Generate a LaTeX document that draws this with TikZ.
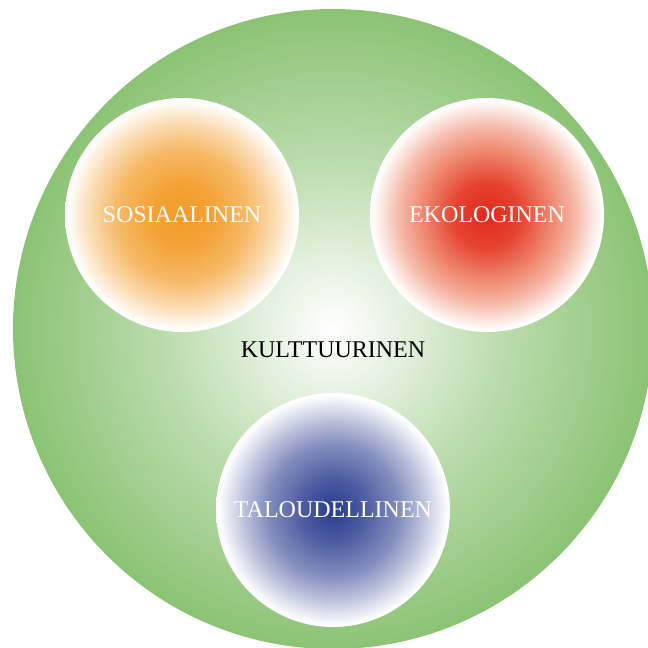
\documentclass[tikz,border=0pt]{standalone}
\usepackage{fontspec}
\setmainfont{Liberation Serif}
\definecolor{vihrea}{HTML}{8BC374}
\definecolor{oranssi}{HTML}{F39B26}
\definecolor{punainen}{HTML}{E2281C}
\definecolor{lohi}{HTML}{EC7557}
\definecolor{sininen}{HTML}{283A8E}
\pgfdeclareradialshading{vihreaS}{\pgfpoint{0bp}{0bp}}{color(0bp)=(white); color(3bp)=(vihrea!12!white); color(13bp)=(vihrea!58!white); color(25bp)=(vihrea); color(50bp)=(vihrea)}
\pgfdeclareradialshading{oranssiS}{\pgfpoint{0bp}{0bp}}{color(0bp)=(oranssi); color(7bp)=(oranssi!92!white); color(14bp)=(oranssi!70!white); color(19bp)=(oranssi!40!white); color(23bp)=(oranssi!12!white); color(24.6bp)=(white); color(50bp)=(white)}
\pgfdeclareradialshading{punainenS}{\pgfpoint{0bp}{0bp}}{color(0bp)=(punainen); color(7bp)=(punainen!65!lohi); color(14bp)=(lohi!85!white); color(19bp)=(lohi!50!white); color(23bp)=(lohi!14!white); color(24.6bp)=(white); color(50bp)=(white)}
\pgfdeclareradialshading{sininenS}{\pgfpoint{0bp}{0bp}}{color(0bp)=(sininen); color(7bp)=(sininen!82!white); color(14bp)=(sininen!58!white); color(19bp)=(sininen!32!white); color(23bp)=(sininen!9!white); color(24.6bp)=(white); color(50bp)=(white)}
\tikzset{
  pallo/.style={circle,minimum size=234pt,inner sep=0pt,text=white,
    font=\fontsize{24}{28}\selectfont},
}
\begin{document}
\begin{tikzpicture}[x=1pt,y=-1pt]
    \useasboundingbox (0,0) rectangle (648,648);
    \clip (0,0) rectangle (648,648);
    % iso ympyra
    \node[circle,minimum size=640pt,inner sep=0pt,shading=vihreaS] (kult) at (333,329) {};
    \node[font=\fontsize{24}{28}\selectfont] (kulttuuri) at (333,350) {KULTTUURINEN};
    % pienet ympyrat
    \node[pallo,shading=oranssiS] (sos) at (182,215) {SOSIAALINEN};
    \node[pallo,shading=punainenS] (eko) at (487,215) {EKOLOGINEN};
    \node[pallo,shading=sininenS] (tal) at (333,510) {TALOUDELLINEN};
\end{tikzpicture}
\end{document}
